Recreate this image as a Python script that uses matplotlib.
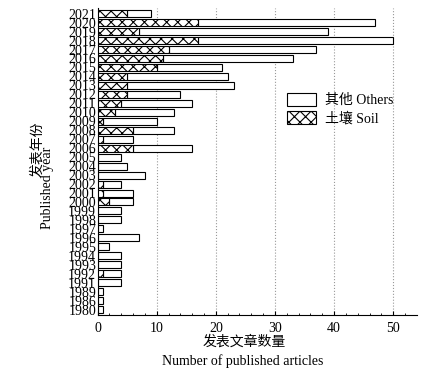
import matplotlib
matplotlib.use("Agg")
import matplotlib.pyplot as plt
import numpy as np

plt.rcParams['font.family'] = ['Liberation Serif', 'Noto Sans CJK SC']
plt.rcParams['hatch.linewidth'] = 0.8

years = ['2021', '2020', '2019', '2018', '2017', '2016', '2015', '2014', '2013', '2012',
         '2011', '2010', '2009', '2008', '2007', '2006', '2005', '2004', '2003', '2002',
         '2001', '2000', '1999', '1998', '1997', '1996', '1995', '1994', '1993', '1992',
         '1991', '1989', '1986', '1980']
soil = [5, 17, 7, 17, 12, 11, 10, 5, 5, 5,
        4, 3, 1, 6, 1, 6, 0, 0, 0, 1,
        1, 2, 0, 0, 0, 0, 0, 0, 0, 1,
        0, 0, 0, 0]
others = [4, 30, 32, 33, 25, 22, 11, 17, 18, 9,
          12, 10, 9, 7, 5, 10, 4, 5, 8, 3,
          5, 4, 4, 4, 1, 7, 2, 4, 4, 3,
          4, 1, 1, 1]

W, H = 428, 375
fig = plt.figure(figsize=(W / 100, H / 100), dpi=100)
ax = fig.add_axes([0.228, 0.16, 0.746, 0.818])

n = len(years)
pos = np.arange(n)[::-1]
ax.barh(pos, others, left=soil, height=0.78, color='white', edgecolor='black',
        linewidth=0.8, label='其他 Others', zorder=3)
ax.barh(pos, soil, height=0.78, color='white', edgecolor='black', hatch='xxx',
        linewidth=0.8, label='土壤 Soil', zorder=3)

ax.set_ylim(-0.6, n - 0.4)
ax.set_xlim(0, 54)
ax.set_yticks(pos)
ax.set_yticklabels(years, fontsize=10)
ax.set_xticks([0, 10, 20, 30, 40, 50])
ax.set_xticks(np.arange(0, 54, 2), minor=True)
ax.tick_params(axis='x', direction='in', length=3, labelsize=10, pad=5)
ax.tick_params(axis='x', which='minor', direction='in', length=1.5)
ax.tick_params(axis='y', direction='in', length=2, pad=1)
for s in ['top', 'right']:
    ax.spines[s].set_visible(False)
ax.grid(axis='x', linestyle=':', color='#999999', linewidth=0.8, zorder=0)

# axis titles placed line by line (pixel positions converted to figure fraction)
def ftxt(x, y, s, **kw):
    fig.text(x / W, 1 - y / H, s, ha='center', va='center', fontsize=10, **kw)

ftxt(244, 342, '发表文章数量')
ftxt(243, 361, 'Number of published articles')
ftxt(37, 149, '发表年份', rotation=90)
ftxt(48, 188, 'Published year', rotation=90)

leg = ax.legend(loc='upper left', bbox_to_anchor=(0.555, 0.765), frameon=False,
                fontsize=10, handlelength=2.1, handleheight=1.1, labelspacing=0.25,
                handletextpad=0.6)

fig.savefig('out.png', dpi=100)
